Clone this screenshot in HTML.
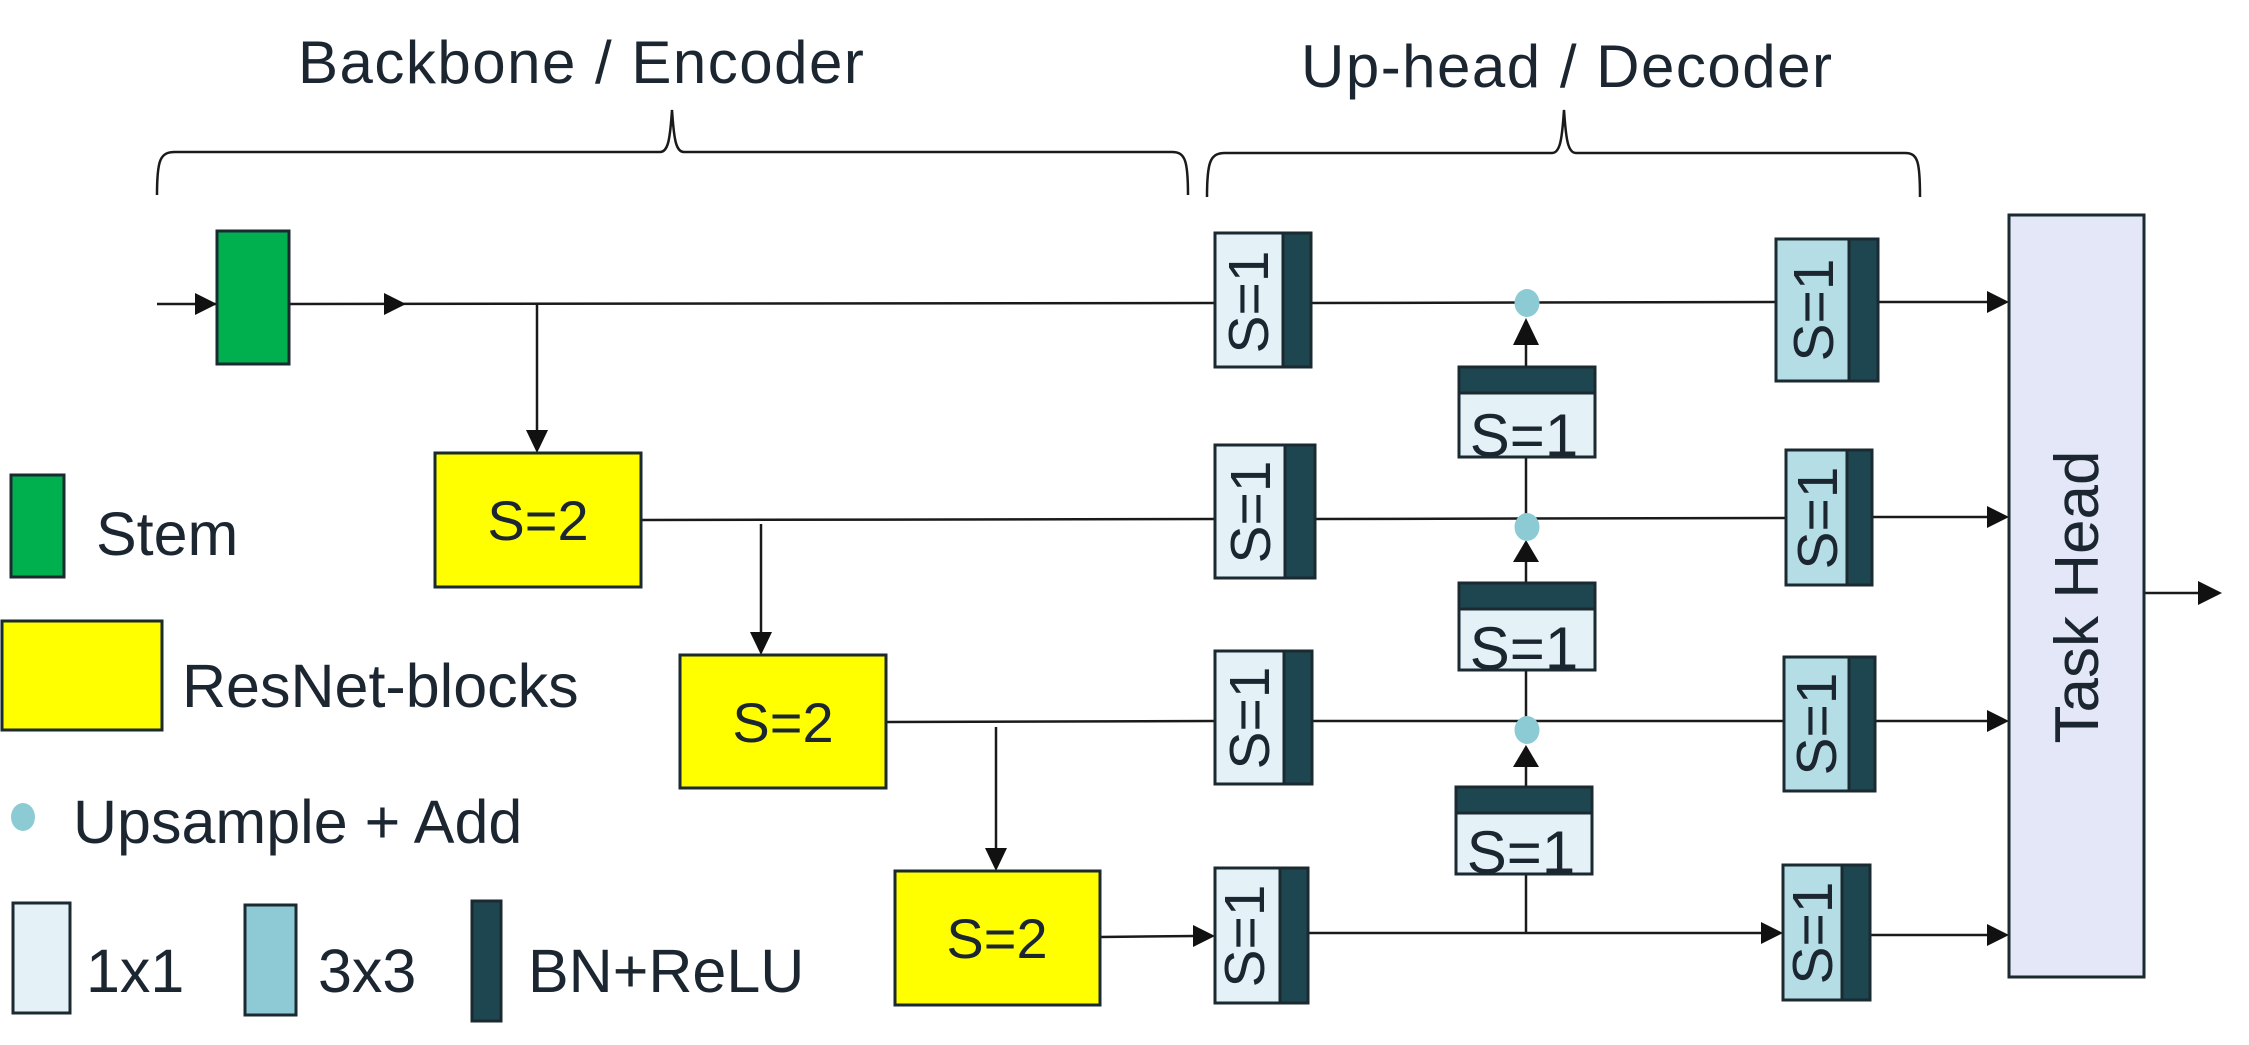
<!DOCTYPE html>
<html><head><meta charset="utf-8"><style>
html,body{margin:0;padding:0;background:#fff;}
svg{display:block;}
text{font-family:"Liberation Sans",Arial,sans-serif;fill:#1b2631;}
</style></head><body>
<svg width="2249" height="1045" viewBox="0 0 2249 1045" xmlns="http://www.w3.org/2000/svg">
<defs>
<marker id="ah" markerWidth="10" markerHeight="10" refX="9" refY="5" orient="auto" markerUnits="userSpaceOnUse" viewBox="0 0 10 10">
</marker>
</defs>
<g stroke="#1a1a1a" stroke-width="2.5" fill="none">
<!-- braces -->
<path d="M157,195 C157,160 160,152 175,152 L660,152 C668,152 670,140 672,110 C674,140 676,152 684,152 L1172,152 C1185,152 1188,160 1188,195"/>
<path d="M1207,197 C1207,162 1210,153 1225,153 L1552,153 C1560,153 1562,140 1564,110 C1566,140 1568,153 1576,153 L1905,153 C1918,153 1920,162 1920,197"/>
<!-- main lines -->
<line x1="157" y1="304" x2="217" y2="304"/>
<line x1="289" y1="304" x2="1215" y2="303"/>
<line x1="537" y1="304" x2="537" y2="430"/>
<line x1="641" y1="520" x2="1215" y2="519"/>
<line x1="761" y1="524" x2="761" y2="632"/>
<line x1="886" y1="722" x2="1215" y2="721"/>
<line x1="996" y1="727" x2="996" y2="848"/>
<line x1="1100" y1="937" x2="1195" y2="936"/>
<!-- decoder rows -->
<line x1="1311" y1="303" x2="1776" y2="302"/>
<line x1="1315" y1="519" x2="1786" y2="518"/>
<line x1="1312" y1="721" x2="1784" y2="721"/>
<line x1="1308" y1="933" x2="1762" y2="933"/>
<line x1="1878" y1="302" x2="1988" y2="302"/>
<line x1="1872" y1="517" x2="1988" y2="517"/>
<line x1="1875" y1="721" x2="1988" y2="721"/>
<line x1="1870" y1="935" x2="1988" y2="935"/>
<line x1="2144" y1="593" x2="2198" y2="593"/>
<!-- vertical upsample path -->
<line x1="1526" y1="933" x2="1526" y2="874"/>
<line x1="1526" y1="787" x2="1526" y2="760"/>
<line x1="1526" y1="730" x2="1526" y2="670"/>
<line x1="1526" y1="583" x2="1526" y2="560"/>
<line x1="1526" y1="527" x2="1526" y2="457"/>
<line x1="1526" y1="367" x2="1526" y2="345"/>
</g>
<g fill="#111">
<!-- arrowheads -->
<polygon points="217,304 195,293 195,315"/>
<polygon points="406,304 384,293 384,315"/>
<polygon points="537,453 526,430 548,430"/>
<polygon points="761,655 750,632 772,632"/>
<polygon points="996,871 985,848 1007,848"/>
<polygon points="1215,936 1193,925 1193,947"/>
<polygon points="1783,933 1761,922 1761,944"/>
<polygon points="2009,302 1987,291 1987,313"/>
<polygon points="2009,517 1987,506 1987,528"/>
<polygon points="2009,721 1987,710 1987,732"/>
<polygon points="2009,935 1987,924 1987,946"/>
<polygon points="2222,593 2198,581 2198,605"/>
<polygon points="1526,318 1513,345 1539,345"/>
<polygon points="1526,540 1513,562 1539,562"/>
<polygon points="1526,745 1513,767 1539,767"/>
</g>
<!-- dots -->
<g fill="#8ccbd3">
<ellipse cx="1527" cy="303" rx="12.5" ry="14"/>
<ellipse cx="1527" cy="527" rx="12.5" ry="14"/>
<ellipse cx="1527" cy="730" rx="12.5" ry="14"/>
<ellipse cx="23" cy="817" rx="12" ry="14"/>
</g>
<!-- titles -->
<text x="298" y="83" font-size="60" letter-spacing="1.5">Backbone / Encoder</text>
<text x="1301" y="87" font-size="60" letter-spacing="1.5">Up-head / Decoder</text>
<!-- stem -->
<rect x="217" y="231" width="72" height="133" fill="#00b04f" stroke="#1a2a30" stroke-width="3"/>
<!-- resnet blocks -->
<g fill="#ffff00" stroke="#1a2a30" stroke-width="3">
<rect x="435" y="453" width="206" height="134"/>
<rect x="680" y="655" width="206" height="133"/>
<rect x="895" y="871" width="205" height="134"/>
</g>
<g font-size="56" text-anchor="middle">
<text x="538" y="540">S=2</text>
<text x="783" y="742">S=2</text>
<text x="997" y="958">S=2</text>
</g>
<!-- col1 boxes -->
<g stroke="#1a2a30" stroke-width="3">
<rect x="1215" y="233" width="96" height="134" fill="#e4f2f7"/>
<rect x="1283" y="233" width="28" height="134" fill="#1e4650"/>
<rect x="1215" y="445" width="100" height="133" fill="#e4f2f7"/>
<rect x="1285" y="445" width="30" height="133" fill="#1e4650"/>
<rect x="1215" y="651" width="97" height="133" fill="#e4f2f7"/>
<rect x="1284" y="651" width="28" height="133" fill="#1e4650"/>
<rect x="1215" y="868" width="93" height="135" fill="#e4f2f7"/>
<rect x="1280" y="868" width="28" height="135" fill="#1e4650"/>
<!-- col2 -->
<rect x="1776" y="239" width="102" height="142" fill="#b4dde5"/>
<rect x="1849" y="239" width="29" height="142" fill="#1e4650"/>
<rect x="1786" y="450" width="86" height="135" fill="#b4dde5"/>
<rect x="1847" y="450" width="25" height="135" fill="#1e4650"/>
<rect x="1784" y="657" width="91" height="134" fill="#b4dde5"/>
<rect x="1849" y="657" width="26" height="134" fill="#1e4650"/>
<rect x="1783" y="865" width="87" height="135" fill="#b4dde5"/>
<rect x="1842" y="865" width="28" height="135" fill="#1e4650"/>
<!-- upsample boxes -->
<rect x="1459" y="367" width="136" height="90" fill="#e4f2f7"/>
<rect x="1459" y="367" width="136" height="26" fill="#1e4650"/>
<rect x="1459" y="583" width="136" height="87" fill="#e4f2f7"/>
<rect x="1459" y="583" width="136" height="26" fill="#1e4650"/>
<rect x="1456" y="787" width="136" height="87" fill="#e4f2f7"/>
<rect x="1456" y="787" width="136" height="26" fill="#1e4650"/>
<!-- task head -->
<rect x="2009" y="215" width="135" height="762" fill="#e3e7f8"/>
</g>
<g font-size="57" text-anchor="middle">
<text transform="translate(1268,302) rotate(-90)">S=1</text>
<text transform="translate(1270,512) rotate(-90)">S=1</text>
<text transform="translate(1269,718) rotate(-90)">S=1</text>
<text transform="translate(1264,936) rotate(-90)">S=1</text>
<text transform="translate(1833,310) rotate(-90)">S=1</text>
<text transform="translate(1837,518) rotate(-90)">S=1</text>
<text transform="translate(1836,724) rotate(-90)">S=1</text>
<text transform="translate(1832,933) rotate(-90)">S=1</text>
</g>
<g font-size="60" text-anchor="middle">
<text x="1524" y="456">S=1</text>
<text x="1524" y="669">S=1</text>
<text x="1521" y="873">S=1</text>
</g>
<text transform="translate(2098,597) rotate(-90)" font-size="62" text-anchor="middle">Task Head</text>
<!-- legend -->
<g stroke="#1a2a30" stroke-width="3">
<rect x="11" y="475" width="53" height="102" fill="#00b04f"/>
<rect x="2" y="621" width="160" height="109" fill="#ffff00"/>
<rect x="13" y="903" width="57" height="110" fill="#e4f2f7"/>
<rect x="245" y="905" width="51" height="110" fill="#8ecad6"/>
<rect x="472" y="901" width="29" height="120" fill="#1e4650"/>
</g>
<g font-size="61">
<text x="96" y="555">Stem</text>
<text x="182" y="707">ResNet-blocks</text>
<text x="73" y="843">Upsample + Add</text>
<text x="86" y="992">1x1</text>
<text x="318" y="992">3x3</text>
<text x="528" y="992">BN+ReLU</text>
</g>
</svg>
</body></html>
